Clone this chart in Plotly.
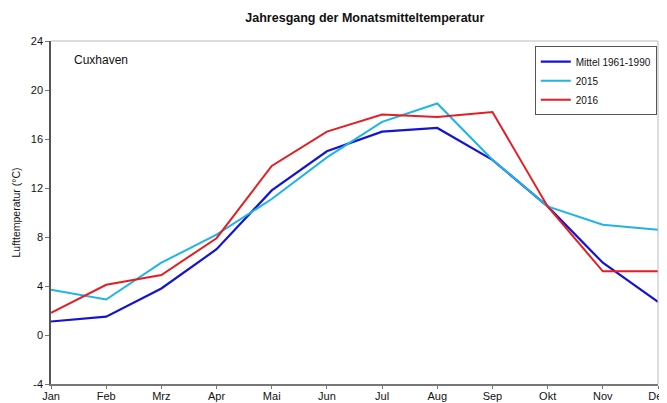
import plotly.graph_objects as go

months = ["Jan", "Feb", "Mrz", "Apr", "Mai", "Jun", "Jul", "Aug", "Sep", "Okt", "Nov", "Dez"]
mittel = [1.1, 1.5, 3.8, 7.0, 11.8, 15.0, 16.6, 16.9, 14.3, 10.5, 5.9, 2.7]
y2015 = [3.7, 2.9, 5.9, 8.2, 11.1, 14.5, 17.4, 18.9, 14.3, 10.5, 9.0, 8.6]
y2016 = [1.8, 4.1, 4.9, 7.9, 13.8, 16.6, 18.0, 17.8, 18.2, 10.5, 5.2, 5.2]
y_ticks = [-4, 0, 4, 8, 12, 16, 20, 24]
y_ticklabels = ["-4", "0", "4", "8", "12", "16", "20", "24"]

x = list(range(len(months)))
font = "Liberation Sans, Arial, sans-serif"

fig = go.Figure()
fig.add_trace(go.Scatter(x=x, y=mittel, mode="lines", name="Mittel 1961-1990",
                         line=dict(color="#1414d2", width=2.2)))
fig.add_trace(go.Scatter(x=x, y=y2015, mode="lines", name="2015",
                         line=dict(color="#1eb4e6", width=2)))
fig.add_trace(go.Scatter(x=x, y=y2016, mode="lines", name="2016",
                         line=dict(color="#e61e23", width=2)))

# page body has an 8px margin, so the figure is drawn at (8, 8)
fig.update_layout(
    width=659, height=395,
    margin=dict(l=43, r=9, t=33, b=19, autoexpand=False),
    paper_bgcolor="white", plot_bgcolor="white",
    font=dict(family=font, size=11, color="#222"),
    title=dict(text="<b>Jahresgang der Monatsmitteltemperatur</b>", x=0.517, xanchor="center",
               xref="paper", yref="container",
               y=0.975, yanchor="middle", font=dict(size=12.5, color="#111"),
               automargin=False),
    showlegend=True,
    legend=dict(x=0.797, y=0.985, xanchor="left", yanchor="top",
                bordercolor="#555", borderwidth=1, bgcolor="white",
                font=dict(size=10, color="#111"), tracegroupgap=0,
                itemwidth=30),
    annotations=[dict(text="Cuxhaven", x=0.035, y=0.945, xref="paper", yref="paper",
                      xanchor="left", yanchor="middle", showarrow=False,
                      font=dict(size=12, color="#111"))],
)
fig.update_xaxes(
    range=[0, 11], tickmode="array", tickvals=x, ticktext=months, automargin=False,
    showgrid=False, zeroline=False, showline=True, linecolor="#777", linewidth=1.5,
    mirror=False, ticks="outside", ticklen=3, tickcolor="#777",
    ticklabeloverflow="allow", ticklabelstandoff=-2,
    tickfont=dict(size=11, color="#111"),
)
fig.update_yaxes(
    range=[-4, 24], tickmode="array", tickvals=y_ticks, ticktext=y_ticklabels, automargin=False,
    showgrid=False, zeroline=False, showline=True, linecolor="#555", linewidth=1.5,
    ticks="outside", ticklen=4, tickcolor="#777",
    tickfont=dict(size=11, color="#111"),
    title=dict(text="Lufttemperatur (°C)", font=dict(size=10.5, color="#111"), standoff=8),
)
fig.add_shape(type="line", xref="paper", yref="paper", x0=0, x1=1, y0=1, y1=1,
              line=dict(color="#bbb", width=1))
fig.add_shape(type="line", xref="paper", yref="paper", x0=1, x1=1, y0=0, y1=1,
              line=dict(color="#bbb", width=1))

fig.write_html("out.html")
